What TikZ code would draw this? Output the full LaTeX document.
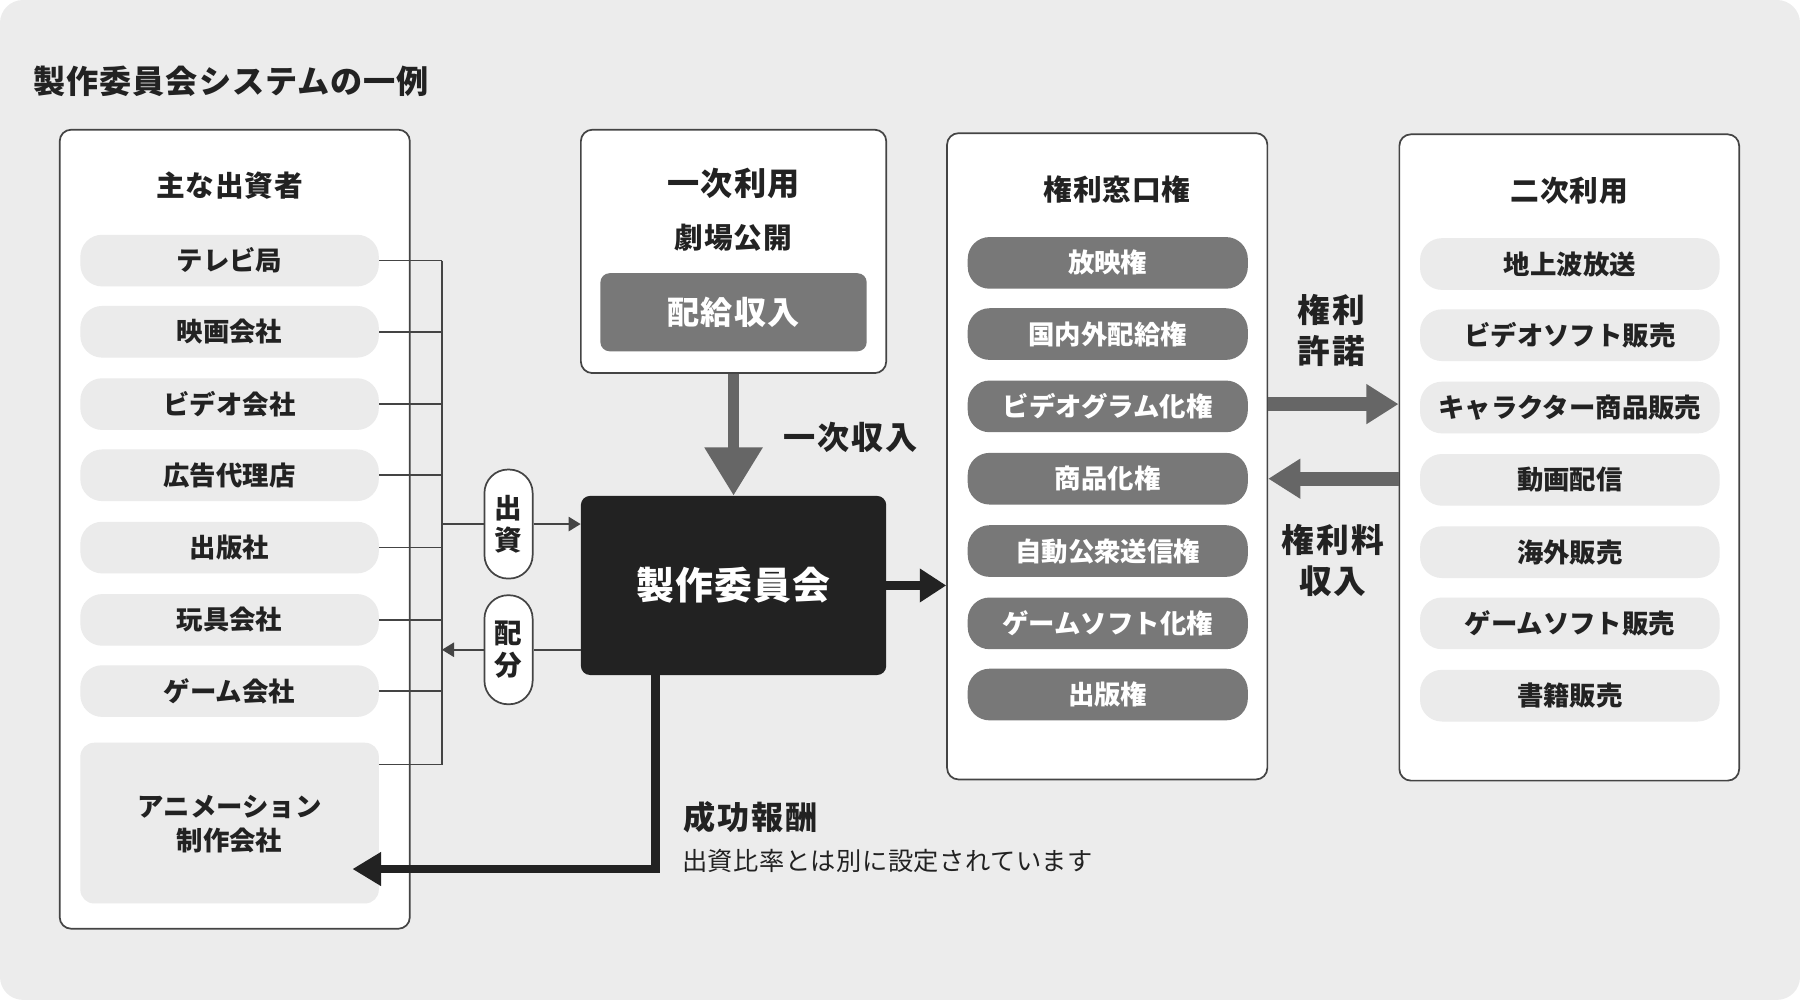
\documentclass[tikz,border=0pt]{standalone}
\usepackage{fontspec}
\setmainfont{Noto Sans CJK JP}
\newfontfamily\jpwide{Noto Sans CJK JP}[LetterSpace=6]
\newfontfamily\jpmid{Noto Sans CJK JP}[LetterSpace=3]
\newfontfamily\jpnote{Noto Sans CJK JP}[LetterSpace=2]
\usetikzlibrary{arrows.meta}
\definecolor{bg}{HTML}{ECECEC}
\definecolor{pillL}{HTML}{EBEBEB}
\definecolor{pillD}{HTML}{787878}
\definecolor{edge}{HTML}{444444}
\definecolor{ink}{HTML}{222222}
\definecolor{garrow}{HTML}{666666}
\newcommand{\fsz}[2]{\fontsize{#1}{#2}\selectfont}
\begin{document}
\begin{tikzpicture}[x=1pt,y=-1pt,
  panel/.style={draw=edge, line width=1.5pt, fill=white, rounded corners=10pt, inner sep=0pt},
  head/.style={text=ink, inner sep=0pt, font=\jpmid\bfseries\fsz{25}{30}},
  lpill/.style={fill=pillL, rounded corners=19pt, minimum width=260pt, minimum height=45pt, inner sep=0pt, text=ink, font=\bfseries\fsz{23}{28}},
  dpill/.style={fill=pillD, rounded corners=19pt, minimum width=244pt, minimum height=45pt, inner sep=0pt, text=white, font=\bfseries\fsz{23}{28}},
  npill/.style={fill=pillL, rounded corners=19pt, minimum width=261pt, minimum height=45pt, inner sep=0pt, text=ink, font=\bfseries\fsz{23}{28}},
  tag/.style={draw=edge, line width=1.5pt, fill=white, rounded corners=20.5pt, minimum width=42pt, minimum height=95pt, inner sep=0pt, align=center, text=ink, font=\bfseries\fsz{24}{28}},
  bus/.style={draw=edge, line width=1.5pt},
  busarrow/.style={draw=edge, line width=1.5pt, -{Triangle[length=10.5pt,width=12.5pt]}},
  grayarrow/.style={draw=garrow, -{Triangle[length=28pt,width=33pt]}, line width=12pt},
  blackarrow/.style={draw=ink, line width=7.5pt, -{Triangle[length=24pt,width=28pt]}},
  label/.style={text=ink, inner sep=0pt, align=center, font=\jpwide\bfseries\fsz{28.5}{36}}
]
\useasboundingbox (0,0) rectangle (1568,871);
\fill[bg, rounded corners=20pt] (0,0) rectangle (1568,871);

% title
\node[anchor=west, text=ink, inner sep=0pt, font=\jpmid\bfseries\fsz{28}{32}] (title) at (29,71) {製作委員会システムの一例};

% left panel
\node[panel, minimum width=305pt, minimum height=696pt] (left) at (204.5,461) {};
\node[head] (lefthead) at (200,162) {主な出資者};
\node[lpill] (p1) at (200,227) {テレビ局};
\node[lpill] (p2) at (200,289) {映画会社};
\node[lpill] (p3) at (200,352) {ビデオ会社};
\node[lpill] (p4) at (200,414) {広告代理店};
\node[lpill] (p5) at (200,477) {出版社};
\node[lpill] (p6) at (200,540) {玩具会社};
\node[lpill] (p7) at (200,602) {ゲーム会社};
\node[fill=pillL, rounded corners=12pt, minimum width=260pt, minimum height=140pt, inner sep=0pt] (anim) at (200,717) {};
\node[text=ink, inner sep=0pt, align=center, font=\bfseries\fsz{23}{30}] (animtext) at (200,718) {アニメーション\\制作会社};

% bus
\coordinate (busx) at (385,0);
\coordinate (animc) at (330,666);
\foreach \p in {p1,p2,p3,p4,p5,p6,p7} {\draw[bus] (\p.east) -- (\p.east -| busx);}
\draw[bus] (animc) -- (animc -| busx);
\draw[bus] (p1.east -| busx) -- (animc -| busx);

% ichiji box
\node[panel, minimum width=266pt, minimum height=212pt] (ichiji) at (639,219) {};
\node[head, font=\jpmid\bfseries\fsz{28}{32}] (ichijihead) at (639,160) {一次利用};
\node[head] (gekijo) at (639,207) {劇場公開};
\node[fill=pillD, rounded corners=8pt, minimum width=232pt, minimum height=68pt, inner sep=0pt, text=white, font=\jpmid\bfseries\fsz{28}{32}] (haikyu) at (639,272) {配給収入};

% committee
\node[fill=ink, rounded corners=8pt, minimum width=266pt, minimum height=156pt, inner sep=0pt, text=white, font=\jpmid\bfseries\fsz{33}{36}] (iinkai) at (639,510) {製作委員会};

% primary income arrow
\draw[draw=garrow, line width=10pt, -{Triangle[length=42pt,width=48pt]}] (ichiji.south) -- (iinkai.north);
\node[label, font=\jpwide\bfseries\fsz{28}{32}] (ichijishu) at (741,381) {一次収入};

% investment / distribution tags
\node[tag] (shusshi) at (443,456.5) {出\\資};
\node[tag] (haibun) at (443,566) {配\\分};
\draw[bus] (busx |- shusshi) -- (shusshi.west);
\draw[busarrow] (shusshi.east) -- (shusshi -| iinkai.west);
\draw[bus] (haibun -| iinkai.west) -- (haibun.east);
\draw[busarrow] (haibun.west) -- (busx |- haibun);

% kenri panel
\node[panel, minimum width=279pt, minimum height=563pt] (kenri) at (964.5,397.5) {};
\node[head] (kenrihead) at (973,165) {権利窓口権};
\node[dpill] (k1) at (965,229) {放映権};
\node[dpill] (k2) at (965,291) {国内外配給権};
\node[dpill] (k3) at (965,354) {ビデオグラム化権};
\node[dpill] (k4) at (965,417) {商品化権};
\node[dpill] (k5) at (965,480) {自動公衆送信権};
\node[dpill] (k6) at (965,543) {ゲームソフト化権};
\node[dpill] (k7) at (965,605) {出版権};

% niji panel
\node[panel, minimum width=296pt, minimum height=563pt] (niji) at (1367,398.5) {};
\node[head] (nijihead) at (1367,166) {二次利用};
\node[npill] (n1) at (1367.5,230) {地上波放送};
\node[npill] (n2) at (1367.5,292) {ビデオソフト販売};
\node[npill] (n3) at (1367.5,355) {キャラクター商品販売};
\node[npill] (n4) at (1367.5,418) {動画配信};
\node[npill] (n5) at (1367.5,481) {海外販売};
\node[npill] (n6) at (1367.5,543) {ゲームソフト販売};
\node[npill] (n7) at (1367.5,606) {書籍販売};

% committee -> rights
\draw[blackarrow, -{Triangle[length=23pt,width=28pt]}] (iinkai.east) -- (iinkai.east -| kenri.west);

% license arrows
\coordinate (ar1) at (0,352);
\coordinate (ar2) at (0,417);
\draw[grayarrow] (kenri.east |- ar1) -- (niji.west |- ar1);
\draw[grayarrow] (niji.west |- ar2) -- (kenri.east |- ar2);
\node[label] (kyodaku) at (1160,288) {権利\\許諾};
\node[label] (ryokin) at (1161,488) {権利料\\収入};

% success fee
\coordinate (sk) at (571,757);
\coordinate (skend) at (307,757);
\draw[blackarrow, -{Triangle[length=25pt,width=28pt]}] (sk |- iinkai.south) -- (sk) -- (skend);
\node[anchor=west, text=ink, inner sep=0pt, font=\jpwide\bfseries\fsz{28}{32}] (seiko) at (595,712) {成功報酬};
\node[anchor=west, text=ink, inner sep=0pt, font=\jpnote\fsz{22}{26}] (note) at (594,750) {出資比率とは別に設定されています};
\end{tikzpicture}
\end{document}
